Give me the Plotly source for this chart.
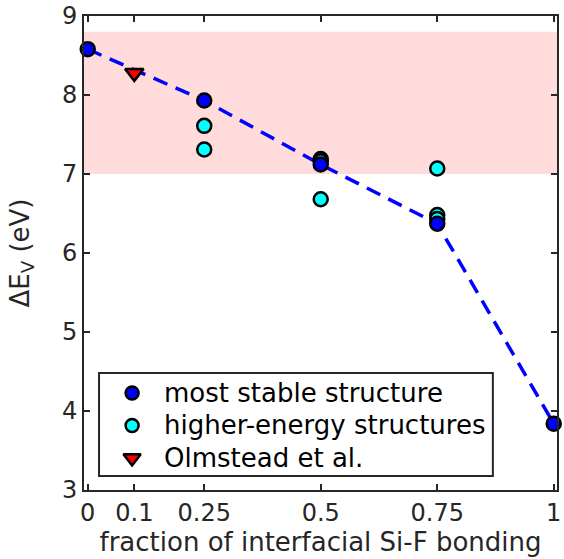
import plotly.graph_objects as go

# Data
stable_x = [0, 0.25, 0.5, 0.75, 1]
stable_y = [8.58, 7.93, 7.12, 6.37, 3.84]
higher_x = [0.25, 0.25, 0.5, 0.5, 0.5, 0.75, 0.75, 0.75]
higher_y = [7.61, 7.31, 7.19, 7.16, 6.68, 7.07, 6.48, 6.43]
olm_x = [0.1]
olm_y = [8.28]
band_lo, band_hi = 7.0, 8.8
xticks = [0, 0.1, 0.25, 0.5, 0.75, 1]
xticklabels = ["0", "0.1", "0.25", "0.5", "0.75", "1"]
yticks = [3, 4, 5, 6, 7, 8, 9]
legend_names = ["most stable structure", "higher-energy structures", "Olmstead et al."]

FONT = "DejaVu Sans"
AX = "#262626"
BLUE, CYAN, RED = "#0000FF", "#00FFFF", "#FF0000"

fig = go.Figure()
fig.add_shape(type="rect", xref="paper", yref="y", x0=0, x1=1, y0=band_lo, y1=band_hi,
              fillcolor="rgba(255,0,0,0.14)", line=dict(width=0), layer="below")

fig.add_trace(go.Scatter(x=stable_x, y=stable_y, mode="lines",
                         line=dict(color=BLUE, width=3.5, dash="15px,9px"),
                         showlegend=False, hoverinfo="skip"))
fig.add_trace(go.Scatter(x=higher_x, y=higher_y, mode="markers", name=legend_names[1],
                         showlegend=False,
                         marker=dict(symbol="circle", size=14, color=CYAN,
                                     line=dict(color="black", width=2.5))))
fig.add_trace(go.Scatter(x=stable_x, y=stable_y, mode="markers", name=legend_names[0],
                         showlegend=False, cliponaxis=False,
                         marker=dict(symbol="circle", size=14, color=BLUE,
                                     line=dict(color="black", width=2.5))))
fig.add_trace(go.Scatter(x=olm_x, y=olm_y, mode="markers", name=legend_names[2],
                         showlegend=False,
                         marker=dict(symbol="triangle-down", size=16, color=RED,
                                     line=dict(color="black", width=2.5))))

# Manual legend (box, symbols on an overlay axis, and text)
lg_x0, lg_x1, lg_y0, lg_y1 = 0.0318, 0.8644, 0.0295, 0.2468
lg_sym_x = 0.1017
lg_txt_x = 0.1653
lg_rows = [0.2046, 0.1361, 0.0675]
fig.add_shape(type="rect", xref="paper", yref="paper", x0=lg_x0, x1=lg_x1, y0=lg_y0, y1=lg_y1,
              fillcolor="white", line=dict(color=AX, width=2), layer="below")
for row, col, sym, sz in zip(lg_rows, [BLUE, CYAN, RED],
                             ["circle", "circle", "triangle-down"], [13, 13, 15]):
    fig.add_trace(go.Scatter(x=[lg_sym_x], y=[row], xaxis="x2", yaxis="y2", mode="markers",
                             showlegend=False, hoverinfo="skip",
                             marker=dict(symbol=sym, size=sz, color=col,
                                         line=dict(color="black", width=2.5))))
for row, name in zip(lg_rows, legend_names):
    fig.add_annotation(x=lg_txt_x, y=row, xref="paper", yref="paper", text=name,
                       showarrow=False, xanchor="left", yanchor="middle",
                       font=dict(family=FONT, size=26, color="black"))

axis_common = dict(showgrid=False, zeroline=False, showline=True, linecolor=AX, linewidth=2,
                   mirror="ticks", ticks="inside", ticklen=6, tickwidth=1.5, tickcolor=AX,
                   automargin=False,
                   tickfont=dict(family=FONT, size=24, color=AX))

fig.update_layout(
    template="none",
    width=564, height=559,
    margin=dict(l=84, r=7, t=16, b=69),
    paper_bgcolor="white", plot_bgcolor="white",
    font=dict(family=FONT, size=24, color=AX),
    showlegend=False,
    xaxis=dict(range=[-0.008, 1.007], tickvals=xticks, ticktext=xticklabels,
               ticklabeloverflow="allow",
               title=dict(text="fraction of interfacial Si-F bonding", standoff=4,
                          font=dict(family=FONT, size=26, color=AX)),
               **axis_common),
    yaxis=dict(range=[3, 9], tickvals=yticks,
               title=dict(text="ΔE<sub>V</sub> (eV)", standoff=25,
                          font=dict(family=FONT, size=26, color=AX)),
               **axis_common),
    xaxis2=dict(overlaying="x", range=[0, 1], visible=False),
    yaxis2=dict(overlaying="y", range=[0, 1], visible=False),
)

fig.write_html("out.html", config={"displayModeBar": False},
               post_script="document.body.style.margin='0';")
